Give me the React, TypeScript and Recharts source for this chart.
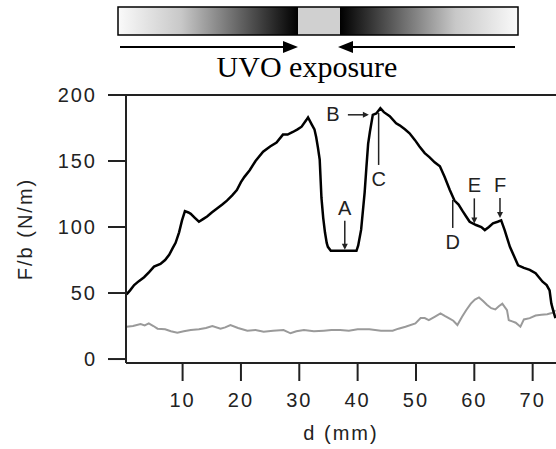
import { ComposedChart, Line, XAxis, YAxis, ReferenceLine, ReferenceDot } from 'recharts'

// d (mm) vs F/b (N/m), black = after UVO, gray = reference
const blackD = [0.4, 1.0, 1.7, 2.5, 3.4, 4.3, 5.1, 6.2, 7.0, 7.7, 8.3, 8.8, 9.4, 9.9, 10.4, 11.0, 11.4, 12.1, 12.8, 13.5, 14.2, 15.0, 15.9, 16.8, 17.6, 18.5, 19.3, 20.0, 20.6, 21.5, 22.5, 23.8, 25.0, 26.1, 27.2, 28.0, 28.9, 29.7, 30.4, 31.2, 31.5, 32.1, 32.6, 32.9, 33.2, 33.5, 33.8, 34.1, 34.4, 34.7, 34.9, 35.4, 36.5, 37.8, 39.0, 39.8, 40.1, 40.6, 41.2, 41.5, 41.8, 42.1, 42.6, 43.2, 43.9, 44.5, 45.5, 46.6, 47.2, 48.1, 48.9, 49.8, 50.6, 51.5, 52.3, 53.2, 54.1, 54.9, 55.8, 56.6, 57.3, 58.0, 58.6, 59.2, 60.3, 61.2, 61.8, 62.5, 63.2, 64.0, 64.6, 65.2, 65.6, 66.1, 66.8, 67.5, 68.5, 69.5, 70.5, 71.7, 72.4, 72.9, 73.2, 73.5, 73.9]
const blackV = [49, 52, 56, 59, 62, 66, 70, 72, 75, 79, 84, 88, 96, 105, 112, 111, 110, 107, 104, 106, 108, 111, 114, 117, 120, 124, 128, 134, 138, 143, 150, 157, 161, 164, 170, 170, 172, 174, 176, 181, 183, 178, 174, 168, 160, 151, 122, 107, 96, 88, 85, 82, 82, 82, 82, 82, 86, 98, 126, 145, 163, 172, 185, 186, 190, 187, 184, 178.5, 177, 174, 171, 166, 161, 156, 153, 149, 146, 138, 128, 120, 117, 112, 108, 104, 101.5, 100, 97.7, 100, 102.8, 104, 105, 97.7, 92, 85, 78, 71, 69, 67.5, 65, 58.6, 56, 52, 42, 37, 31]

const grayD = [0.4, 1.5, 2.8, 3.5, 4.2, 5.0, 5.7, 7.0, 8.0, 9.1, 10.2, 11.4, 12.8, 14.0, 15.1, 16.5, 17.3, 18.2, 19.5, 21.1, 22.5, 23.9, 25.5, 27.3, 28.5, 29.5, 30.8, 32.5, 34.2, 35.5, 37.0, 38.5, 40.0, 42.0, 44.0, 46.0, 47.0, 48.2, 49.9, 50.8, 51.5, 52.2, 53.2, 54.2, 55.0, 55.7, 56.4, 57.1, 57.9, 58.6, 59.4, 60.1, 60.8, 61.5, 62.2, 62.9, 63.6, 64.2, 64.8, 65.6, 65.9, 66.5, 67.1, 67.9, 68.5, 69.5, 70.5, 71.5, 72.5, 73.4, 73.9]
const grayV = [24.5, 25, 26.5, 25.5, 27, 25, 23, 22.5, 21, 20, 21, 22, 22.5, 23.5, 25, 23, 24, 25.8, 23.5, 21.5, 22, 20.7, 21.5, 22, 19.5, 21, 22, 21, 21.5, 22, 22, 21.5, 22.5, 22.5, 21.5, 21.5, 23, 24.5, 27, 31, 31, 29.5, 32, 34.6, 32.5, 30.8, 29, 25.8, 32, 37, 42, 45, 46.7, 44, 41, 38.5, 37.6, 40, 42, 37, 29.5, 28.5, 27.5, 24.5, 30, 31, 33, 33.5, 34, 35, 37]

const xTicks = [10, 20, 30, 40, 50, 60, 70]
const yTicks = [0, 50, 100, 150, 200]

// labelled points on the black curve
const noteLabels = ['A', 'B', 'C', 'D', 'E', 'F']
const noteD = [37.8, 42.1, 43.6, 56.3, 60.0, 64.4]
const noteV = [82, 185, 186.4, 120.5, 102, 106]

const blackData = blackD.map((d, i) => ({ d, v: blackV[i] }))
const grayData = grayD.map((d, i) => ({ d, v: grayV[i] }))

const font = '"Liberation Sans", Arial, sans-serif'
const ink = '#222'
const tickStyle = { fontSize: 20, fill: ink, fontFamily: font, letterSpacing: 2 }

// how each note is drawn relative to its point
const noteShape: Record<string, { dir: 'up' | 'down' | 'left'; len: number }> = {
  A: { dir: 'up', len: 30 },
  B: { dir: 'left', len: 22 },
  C: { dir: 'down', len: 52 },
  D: { dir: 'down', len: 28 },
  E: { dir: 'up', len: 26 },
  F: { dir: 'up', len: 21 },
}

function Note(props: any) {
  const { cx, cy, label } = props
  const s = noteShape[label]
  const txt = (x: number, y: number) => (
    <text x={x} y={y} textAnchor="middle" dominantBaseline="central" fontSize={20} fontFamily={font} fill={ink}>
      {label}
    </text>
  )
  if (s.dir === 'up') {
    return (
      <g>
        <line x1={cx} y1={cy - s.len} x2={cx} y2={cy - 3} stroke={ink} strokeWidth={1.5} />
        <polygon points={`${cx - 3},${cy - 7} ${cx + 3},${cy - 7} ${cx},${cy - 1}`} fill={ink} />
        {txt(cx, cy - s.len - 13)}
      </g>
    )
  }
  if (s.dir === 'down') {
    return (
      <g>
        <line x1={cx} y1={cy} x2={cx} y2={cy + s.len} stroke={ink} strokeWidth={1.5} />
        {txt(cx, cy + s.len + 14)}
      </g>
    )
  }
  return (
    <g>
      <line x1={cx - s.len} y1={cy} x2={cx - 3} y2={cy} stroke={ink} strokeWidth={1.5} />
      <polygon points={`${cx - 7},${cy - 3} ${cx - 7},${cy + 3} ${cx - 1},${cy}`} fill={ink} />
      {txt(cx - s.len - 15, cy - 1)}
    </g>
  )
}

const XTitle = ({ viewBox }: any) => (
  <text x={viewBox.x + viewBox.width / 2} y={440} textAnchor="middle" fontSize={20} fontFamily={font} fill={ink} letterSpacing={2}>
    d (mm)
  </text>
)

const YTitle = ({ viewBox }: any) => {
  const y = viewBox.y + viewBox.height / 2
  return (
    <text x={32} y={y} transform={`rotate(-90 32 ${y})`} textAnchor="middle" fontSize={20} fontFamily={font} fill={ink} letterSpacing={2}>
      F/b (N/m)
    </text>
  )
}

function Header() {
  return (
    <svg width={556} height={90} style={{ position: 'absolute', left: 0, top: 0 }}>
      <defs>
        <linearGradient id="fadeIn" x1="0" x2="1" y1="0" y2="0">
          <stop offset="0" stopColor="#fafafa" />
          <stop offset="0.35" stopColor="#c8c8c8" />
          <stop offset="1" stopColor="#000" />
        </linearGradient>
        <linearGradient id="fadeOut" x1="0" x2="1" y1="0" y2="0">
          <stop offset="0" stopColor="#000" />
          <stop offset="0.65" stopColor="#c8c8c8" />
          <stop offset="1" stopColor="#fafafa" />
        </linearGradient>
      </defs>
      <rect x={118} y={7} width={180} height={28} fill="url(#fadeIn)" />
      <rect x={298} y={7} width={42} height={28} fill="#d0d0d0" />
      <rect x={340} y={7} width={178} height={28} fill="url(#fadeOut)" />
      <rect x={118} y={7} width={400} height={28} fill="none" stroke="#000" strokeWidth={1.5} />
      <line x1={120} y1={47} x2={285} y2={47} stroke="#000" strokeWidth={2} />
      <polygon points="283,41 298,47 283,53" fill="#000" />
      <line x1={351} y1={47} x2={515} y2={47} stroke="#000" strokeWidth={2} />
      <polygon points="353,41 338,47 353,53" fill="#000" />
      <text x={307} y={77} textAnchor="middle" fontSize={30} fontFamily='"Liberation Serif", "Times New Roman", serif' fill="#000">
        UVO exposure
      </text>
    </svg>
  )
}

export default function App() {
  return (
    <div style={{ position: 'absolute', left: 0, top: 0, width: 556, height: 449, background: '#fff' }}>
      <ComposedChart width={556} height={449} margin={{ top: 95, right: 0, bottom: 0, left: 0 }}>
        <XAxis
          dataKey="d"
          type="number"
          domain={[0.3, 74]}
          allowDataOverflow
          ticks={xTicks}
          height={86}
          tickSize={18}
          tickMargin={12}
          tick={tickStyle}
          axisLine={{ stroke: ink, strokeWidth: 2 }}
          tickLine={{ stroke: ink, strokeWidth: 2 }}
          label={{ content: XTitle }}
        />
        <YAxis
          type="number"
          domain={[-3, 200]}
          allowDataOverflow
          ticks={yTicks}
          width={126}
          tickSize={18}
          tickMargin={11}
          tick={tickStyle}
          axisLine={{ stroke: ink, strokeWidth: 2 }}
          tickLine={{ stroke: ink, strokeWidth: 2 }}
          label={{ content: YTitle }}
        />
        <ReferenceLine y={200} stroke={ink} strokeWidth={2} />
        <Line data={grayData} dataKey="v" stroke="#9a9a9a" strokeWidth={2} dot={false} isAnimationActive={false} />
        <Line data={blackData} dataKey="v" stroke="#000" strokeWidth={2.5} dot={false} isAnimationActive={false} />
        {noteLabels.map((lab, i) => (
          <ReferenceDot
            key={lab}
            x={noteD[i]}
            y={noteV[i]}
            r={0}
            ifOverflow="visible"
            shape={(p: any) => <Note {...p} label={lab} />}
          />
        ))}
      </ComposedChart>
      <Header />
    </div>
  )
}
